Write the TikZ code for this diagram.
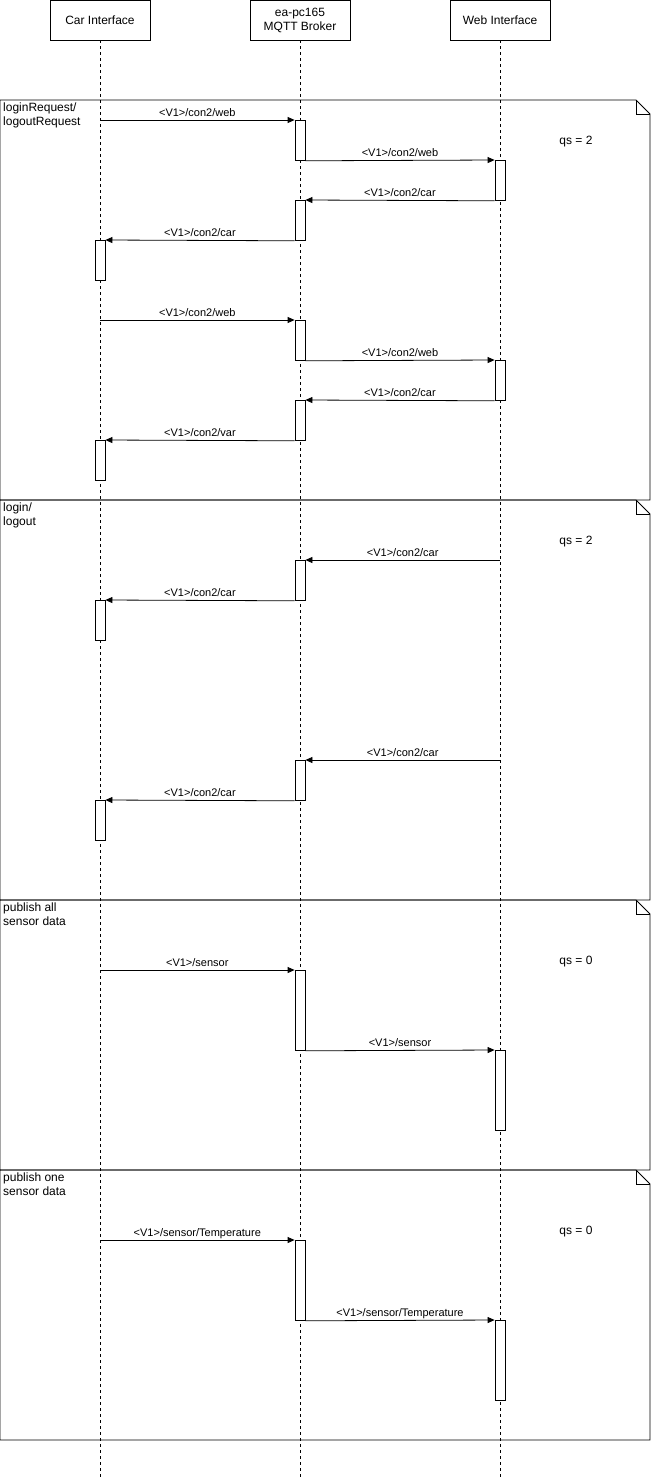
\documentclass[tikz,border=0pt]{standalone}
\usepackage{fontspec}
\setmainfont{Liberation Sans}
\usetikzlibrary{arrows.meta}
\begin{document}
\begin{tikzpicture}[x=1pt,y=-1pt,
  head/.style={draw, line width=0.9pt, minimum width=100pt, minimum height=40pt,
    inner sep=0pt, align=center, font=\fontsize{12}{14}\selectfont},
  life/.style={line width=0.8pt, dash pattern=on 3pt off 3pt},
  act/.style={draw, fill=white, line width=0.8pt, minimum width=10pt, inner sep=0pt, anchor=north},
  msg/.style={line width=0.8pt, -{Triangle[length=7pt,width=6pt]}},
  lbl/.style={font=\fontsize{11}{13}\selectfont, inner sep=0pt, anchor=base, yshift=4pt, midway},
  fragment/.style={line width=0.8pt},
  ftitle/.style={anchor=north west, inner sep=0pt, align=left, font=\fontsize{12}{14}\selectfont},
  qslbl/.style={inner sep=0pt, font=\fontsize{12}{14}\selectfont}
]
\useasboundingbox (0,0) rectangle (652,1481);

% combined fragments with folded corner
\foreach \ya/\yb in {100/500, 500/900, 900/1170, 1170/1440}{
  \draw[fragment] (0,\ya) -- (636,\ya) -- (650,\ya+14) -- (650,\yb) -- (0,\yb) -- cycle;
  \draw[fragment] (636,\ya) -- (636,\ya+14) -- (650,\ya+14);
}
\node[ftitle] (f1) at (3,103) {loginRequest/\\logoutRequest};
\node[ftitle] (f2) at (3,503) {login/\\logout};
\node[ftitle] (f3) at (3,903) {publish all\\sensor data};
\node[ftitle] (f4) at (3,1173) {publish one\\sensor data};
\node[qslbl] (q1) at (576,142) {qs = 2};
\node[qslbl] (q2) at (576,542) {qs = 2};
\node[qslbl] (q3) at (576,962) {qs = 0};
\node[qslbl] (q4) at (576,1232) {qs = 0};

% participants and lifelines
\node[head] (car) at (100,20) {Car Interface};
\node[head] (brk) at (300,20) {ea-pc165\\MQTT Broker};
\node[head] (web) at (500,20) {Web Interface};
\coordinate (carEnd) at (100,1478);
\coordinate (brkEnd) at (300,1478);
\coordinate (webEnd) at (500,1478);
\draw[life] (car.south) -- (carEnd);
\draw[life] (brk.south) -- (brkEnd);
\draw[life] (web.south) -- (webEnd);

% activation bars
\foreach \n/\y/\h in {A1/120/40, A2/200/40, A3/320/40, A4/400/40, A5/560/40, A6/760/40, A7/970/80, A8/1240/80}
  \node[act, minimum height=\h pt] (\n) at (300,\y) {};
\foreach \n/\y/\h in {C1/240/40, C2/440/40, C3/600/40, C4/800/40}
  \node[act, minimum height=\h pt] (\n) at (100,\y) {};
\foreach \n/\y/\h in {W1/160/40, W2/360/40, W3/1050/80, W4/1320/80}
  \node[act, minimum height=\h pt] (\n) at (500,\y) {};

% free message ends on the lifelines
\coordinate (s1) at (100,120);
\coordinate (s2) at (100,320);
\coordinate (s3) at (500,560);
\coordinate (s4) at (500,760);
\coordinate (s5) at (100,970);
\coordinate (s6) at (100,1240);

% loginRequest / logoutRequest
\draw[msg] (s1) -- (A1.north west) node[lbl] {<V1>/con2/web};
\draw[msg] (A1.south east) -- (W1.north west) node[lbl] {<V1>/con2/web};
\draw[msg] (W1.south west) -- (A2.north east) node[lbl] {<V1>/con2/car};
\draw[msg] (A2.south west) -- (C1.north east) node[lbl] {<V1>/con2/car};
\draw[msg] (s2) -- (A3.north west) node[lbl] {<V1>/con2/web};
\draw[msg] (A3.south east) -- (W2.north west) node[lbl] {<V1>/con2/web};
\draw[msg] (W2.south west) -- (A4.north east) node[lbl] {<V1>/con2/car};
\draw[msg] (A4.south west) -- (C2.north east) node[lbl] {<V1>/con2/var};

% login / logout
\draw[msg] (s3) -- (A5.north east) node[lbl] {<V1>/con2/car};
\draw[msg] (A5.south west) -- (C3.north east) node[lbl] {<V1>/con2/car};
\draw[msg] (s4) -- (A6.north east) node[lbl] {<V1>/con2/car};
\draw[msg] (A6.south west) -- (C4.north east) node[lbl] {<V1>/con2/car};

% sensor data
\draw[msg] (s5) -- (A7.north west) node[lbl] {<V1>/sensor};
\draw[msg] (A7.south east) -- (W3.north west) node[lbl] {<V1>/sensor};
\draw[msg] (s6) -- (A8.north west) node[lbl] {<V1>/sensor/Temperature};
\draw[msg] (A8.south east) -- (W4.north west) node[lbl] {<V1>/sensor/Temperature};
\end{tikzpicture}
\end{document}
